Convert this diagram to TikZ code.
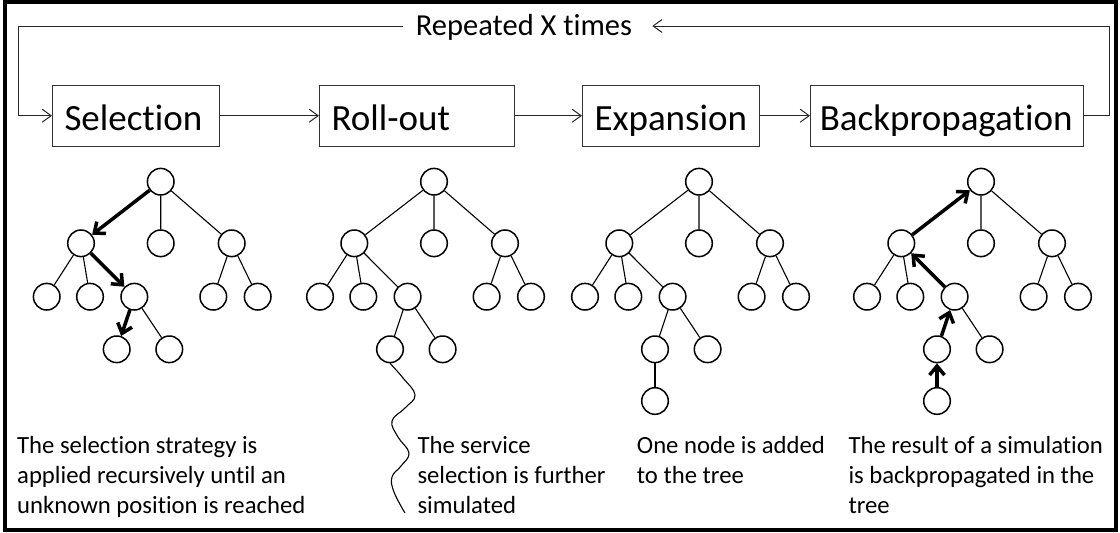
\documentclass[tikz,border=0pt]{standalone}
\usepackage{fontspec}
\setmainfont[Ligatures=NoCommon, RawFeature={-liga;-clig;-dlig}]{Carlito}
\usetikzlibrary{arrows.meta}
\tikzset{
  tn/.style={circle, draw, line width=1.5pt, minimum size=26.6pt, inner sep=0pt},
  tl/.style={line width=1.1pt},
  thk/.style={line width=3.5pt, -{Straight Barb[length=9pt,width=15pt]}},
  conn/.style={line width=1pt, draw=black!85, -{Straight Barb[length=9pt,width=13pt]}},
  stage/.style={draw=black!80, line width=1pt, minimum height=61pt, inner xsep=12pt,
    align=left, anchor=west, font=\fontsize{37}{44}\selectfont, text height=31pt, text depth=2pt},
  desc/.style={anchor=base west, align=left, inner sep=0pt, font=\fontsize{24.7}{30}\selectfont},
  wave/.style={line width=1.1pt}
}
\newcommand\mctree[2]{%
\begin{scope}[xshift=#2pt]
\node[tn] (#1r) at (0,181.7) {};
\node[tn] (#1a) at (-79.7,243.3) {};
\node[tn] (#1b) at (0,243.3) {};
\node[tn] (#1c) at (71,243.3) {};
\node[tn] (#1aa) at (-114,296.7) {};
\node[tn] (#1ab) at (-70.7,296.7) {};
\node[tn] (#1ac) at (-26.4,296.7) {};
\node[tn] (#1ca) at (52.6,296.7) {};
\node[tn] (#1cb) at (97,296.7) {};
\node[tn] (#1aca) at (-44,349.3) {};
\node[tn] (#1acb) at (8.6,349.3) {};
\draw[tl] (#1r)--(#1b) (#1r)--(#1c) (#1a)--(#1aa) (#1a)--(#1ab)
          (#1c)--(#1ca) (#1c)--(#1cb) (#1ac)--(#1acb);
\end{scope}}
\begin{document}
\begin{tikzpicture}[x=1pt, y=-1pt]
\useasboundingbox (0,0) rectangle (1120,533);
\draw[line width=3.5pt] (5,2) rectangle (1116,530);

% stages
\node[stage, text width=143pt] (sel) at (52,115.7) {Selection};
\node[stage, text width=171pt] (roll) at (319,115.7) {Roll-out};
\node[stage, text width=153pt] (exp) at (582,115.7) {Expansion};
\node[stage, text width=254pt, inner xsep=9.25pt] (back) at (810,115.7) {Backpropagation};
\draw[conn] (sel) -- (roll);
\draw[conn] (roll) -- (exp);
\draw[conn] (exp) -- (back);

\node[inner sep=0pt, font=\fontsize{30.5}{36}\selectfont, text height=24.4pt, text depth=5pt] (rep) at (524,26) {Repeated X times};
\draw[conn] (back.east) -- ++(25.5,0) |- ([xshift=20pt]rep.east);
\draw[conn] ([xshift=-13pt]rep.west) -| ([xshift=-34pt]sel.west) -- (sel.west);

% tree 1: selection
\mctree{t1}{160.7}
\draw[thk] (t1r) -- (t1a);
\draw[thk] (t1a) -- (t1ac);
\draw[thk] (t1ac) -- (t1aca);

% tree 2: roll-out
\mctree{t2}{434}
\draw[tl] (t2r)--(t2a) (t2a)--(t2ac) (t2ac)--(t2aca);
\coordinate (wend) at (405,513);
\draw[wave] plot[smooth, tension=0.7] coordinates {(t2aca.south) (403,378) (415,395) (405,408) (392,421) (398,437) (409,453) (401,466) (392,477) (394,492) (wend)};

% tree 3: expansion
\mctree{t3}{699}
\draw[tl] (t3r)--(t3a) (t3a)--(t3ac) (t3ac)--(t3aca);
\node[tn] (t3acaa) at (655,401) {};
\draw[tl] (t3aca)--(t3acaa);

% tree 4: backpropagation
\mctree{t4}{981}
\node[tn] (t4acaa) at (937,401) {};
\draw[thk] (t4acaa) -- (t4aca);
\draw[thk] (t4aca) -- (t4ac);
\draw[thk] (t4ac) -- (t4a);
\draw[thk] (t4a) -- (t4r);

% descriptions (node base = baseline of the last line)
\node[desc] (d1) at (17,513) {The selection strategy is\\applied recursively until an\\unknown position is reached};
\node[desc] (d2) at (417.3,513) {The service\\selection is further\\simulated};
\node[desc] (d3) at (636.7,483) {One node is added\\to the tree};
\node[desc] (d4) at (848.3,513) {The result of a simulation\\is backpropagated in the\\tree};
\end{tikzpicture}
\end{document}
